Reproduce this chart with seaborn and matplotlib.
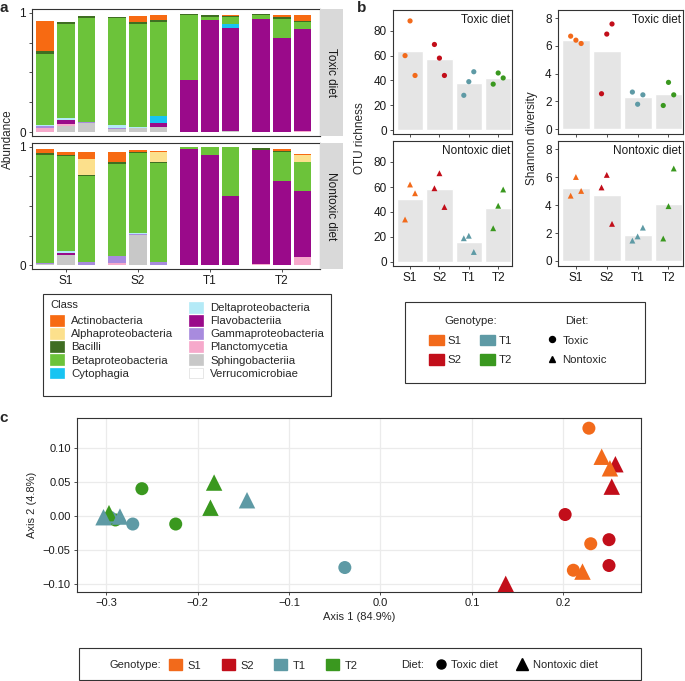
import matplotlib
matplotlib.use("Agg")
import matplotlib.pyplot as plt
import numpy as np
import pandas as pd
import seaborn as sns
from matplotlib.patches import Patch, Rectangle
from matplotlib.lines import Line2D

sns.set_style("ticks")
plt.rcParams["font.family"] = ["Liberation Sans", "DejaVu Sans"]

GENOTYPES = ["S1", "S2", "T1", "T2"]
GENO_COLORS = ["#F26A1B", "#C20E1A", "#5E9AA5", "#3A981F"]
DIETS = ["Toxic diet", "Nontoxic diet"]

CLASSES = ["Actinobacteria", "Alphaproteobacteria", "Bacilli", "Betaproteobacteria",
           "Cytophagia", "Deltaproteobacteria", "Flavobacteriia", "Gammaproteobacteria",
           "Planctomycetia", "Sphingobacteriia", "Verrucomicrobiae"]
CLASS_COLORS = ["#F76A12", "#FCE08C", "#3F6E22", "#6CC33A", "#18C4F2", "#B4EAF7",
                "#9A0A8A", "#A88BDE", "#F6A9CB", "#C8C8C8", "#FFFFFF"]

# panel a: relative abundance, 12 toxic-diet samples then 12 nontoxic-diet samples
# (S1 x3, S2 x3, T1 x3, T2 x3 within each diet)
actino = [0.253, 0, 0, 0, 0.047, 0.042, 0, 0, 0.008, 0, 0.014, 0.047,
          0.036, 0.02, 0.059, 0.081, 0.014, 0.006, 0, 0, 0, 0, 0.017, 0.011]
alpha = [0, 0, 0, 0, 0, 0, 0, 0, 0, 0, 0, 0,
         0, 0, 0.137, 0, 0, 0.089, 0, 0, 0, 0, 0, 0.056]
bacilli = [0.02, 0.014, 0.014, 0.008, 0.014, 0.014, 0.011, 0.014, 0.014, 0.014, 0.014, 0.011,
           0.011, 0.014, 0.008, 0.017, 0.014, 0.008, 0.004, 0.005, 0.004, 0.02, 0.011, 0.008]
beta = [0.597, 0.786, 0.867, 0.894, 0.861, 0.786, 0.544, 0.028, 0.058, 0.033, 0.158, 0.058,
        0.911, 0.796, 0.726, 0.774, 0.668, 0.83, 0.018, 0.065, 0.409, 0, 0.243, 0.237]
cyto = [0, 0, 0, 0, 0, 0.061, 0, 0, 0.028, 0, 0, 0,
        0, 0, 0, 0, 0, 0, 0, 0, 0, 0, 0, 0]
delta = [0.005, 0.019, 0, 0.022, 0.011, 0, 0, 0, 0, 0, 0, 0,
         0, 0.017, 0, 0, 0.011, 0, 0, 0, 0, 0, 0, 0]
flavo = [0, 0.033, 0, 0, 0, 0.033, 0.436, 0.936, 0.861, 0.944, 0.792, 0.847,
         0, 0.02, 0, 0, 0, 0, 0.978, 0.93, 0.587, 0.964, 0.712, 0.559]
gamma = [0.015, 0, 0.014, 0.011, 0, 0, 0, 0, 0, 0, 0, 0,
         0.01, 0, 0.028, 0.061, 0.008, 0.028, 0, 0, 0, 0, 0, 0]
plancto = [0.035, 0.017, 0, 0, 0, 0, 0, 0, 0, 0, 0, 0.014,
           0, 0, 0, 0.022, 0, 0, 0, 0, 0, 0.008, 0, 0.07]
sphingo = [0.005, 0.053, 0.075, 0.028, 0.036, 0.042, 0, 0, 0.014, 0, 0, 0,
           0.01, 0.084, 0, 0, 0.255, 0, 0, 0, 0, 0, 0, 0]
verruco = [0] * 24

# panel b: alpha diversity per replicate (3 per genotype, S1..T2)
otu_toxic = [60, 88, 44, 69, 58, 44, 28, 39, 47, 37, 46, 42]
otu_nontoxic = [34, 62, 55, 59, 71, 44, 19, 21, 8, 27, 45, 58]
shannon_toxic = [6.71, 6.42, 6.18, 2.55, 6.86, 7.59, 2.67, 1.79, 2.47, 1.70, 3.37, 2.47]
shannon_nontoxic = [4.68, 6.02, 5.02, 5.27, 6.17, 2.66, 1.46, 1.76, 2.39, 1.61, 3.93, 6.63]

# panel c: PCoA coordinates
pcoa_geno = ["S1"] * 3 + ["S2"] * 3 + ["T1"] * 3 + ["T2"] * 3
pcoa_geno = pcoa_geno + pcoa_geno
pcoa_diet = ["Toxic diet"] * 12 + ["Nontoxic diet"] * 12
axis1 = [0.228, 0.230, 0.211, 0.202, 0.250, 0.250, -0.271, -0.039, -0.296, -0.261, -0.224, -0.290,
         0.242, 0.251, 0.221, 0.257, 0.253, 0.137, -0.146, -0.303, -0.285, -0.182, -0.186, -0.297]
axis2 = [0.129, -0.041, -0.080, 0.002, -0.035, -0.073, -0.012, -0.076, -0.002, 0.040, -0.012, -0.006,
         0.087, 0.070, -0.082, 0.076, 0.043, -0.100, 0.023, -0.002, -0.001, 0.049, 0.012, 0.004]

W, H = 685, 681
fig = plt.figure(figsize=(W / 100, H / 100), dpi=100)
INK = "#333333"


def px_axes(l, t, r, b):
    return fig.add_axes([l / W, 1 - b / H, (r - l) / W, (b - t) / H])


def style_axes(ax, size=8):
    for s in ax.spines.values():
        s.set_color(INK)
        s.set_linewidth(0.8)
        s.set_visible(True)
    ax.tick_params(colors=INK, labelcolor="#1a1a1a", labelsize=size, length=2.5, width=0.6, pad=2)
    ax.set_xlabel("")
    ax.set_ylabel("")


# ---------------- panel a ----------------
abund = dict(zip(CLASSES, [actino, alpha, bacilli, beta, cyto, delta, flavo, gamma,
                           plancto, sphingo, verruco]))
BAR_W = 0.87
sample_pos = [g * 3.5 + i for g in range(4) for i in range(3)]
edges = sorted([p - BAR_W / 2 for p in sample_pos] + [p + BAR_W / 2 for p in sample_pos])
rows = []
for di, diet in enumerate(DIETS):
    for k, pos in enumerate(sample_pos):
        for cls in CLASSES:
            rows.append((diet, pos, cls, abund[cls][di * 12 + k]))
df_a = pd.DataFrame(rows, columns=["diet", "pos", "cls", "abundance"])

for row, (diet, (t, b)) in enumerate(zip(DIETS, [(9, 136), (143, 269)])):
    ax = px_axes(32, t, 320, b)
    sns.histplot(data=df_a[df_a.diet == diet], x="pos", weights="abundance", hue="cls",
                 hue_order=CLASSES, palette=CLASS_COLORS, multiple="stack", bins=edges,
                 linewidth=0, alpha=1, legend=False, ax=ax)
    style_axes(ax, 8.5)
    ax.set_xlim(-0.65, 13.35)
    ax.set_ylim(-0.03, 1.03)
    ax.set_yticks([0, 0.25, 0.5, 0.75, 1])
    ax.set_yticklabels(["0", "", "", "", "1"])
    ax.set_xticks([1, 4.5, 8, 11.5])
    if row == 0:
        ax.set_xticklabels([])
        ax.tick_params(axis="x", length=0)
    else:
        ax.set_xticklabels(GENOTYPES)
    strip = px_axes(320, t, 343, b)
    strip.set_facecolor("#D9D9D9")
    strip.set_xticks([])
    strip.set_yticks([])
    for s in strip.spines.values():
        s.set_visible(False)
    strip.text(0.5, 0.5, diet, rotation=270, ha="center", va="center", fontsize=8.5,
               color="#1a1a1a", transform=strip.transAxes)

fig.text(8 / W, 1 - 139 / H, "Abundance", rotation=90, ha="center", va="center", fontsize=8.5)

# class legend
fig.add_artist(Rectangle((43 / W, 1 - 396 / H), 288 / W, 102 / H, transform=fig.transFigure,
                         fill=False, edgecolor=INK, linewidth=0.8))
fig.text(50 / W, 1 - 305 / H, "Class", ha="left", va="center", fontsize=8)
handles = [Patch(facecolor="none", edgecolor="none")]
labels = [""]
for cls, c in zip(CLASSES, CLASS_COLORS):
    handles.append(Patch(facecolor=c, edgecolor="#DDDDDD" if c == "#FFFFFF" else c, linewidth=0.5))
    labels.append(cls)
fig.legend(handles, labels, loc="upper left", bbox_to_anchor=(50 / W, 1 - 302 / H), ncol=2,
           frameon=False, borderpad=0, borderaxespad=0, fontsize=8.2, handlelength=1.25,
           handleheight=1.05, handletextpad=0.6, labelspacing=0.17, columnspacing=1.4)

# ---------------- panel b ----------------
jitter = [-0.17, 0.0, 0.17]
rows = []
for di, diet in enumerate(DIETS):
    otu = otu_toxic if di == 0 else otu_nontoxic
    sha = shannon_toxic if di == 0 else shannon_nontoxic
    for k in range(12):
        g = k // 3
        rows.append((diet, GENOTYPES[g], g + jitter[k % 3], otu[k], sha[k]))
df_b = pd.DataFrame(rows, columns=["diet", "genotype", "xj", "otu", "shannon"])

b_specs = [("otu", "OTU richness", (393, 512), (-3.2, 96.8), [0, 20, 40, 60, 80], 360),
           ("shannon", "Shannon diversity", (558, 683), (-0.36, 8.6), [0, 2, 4, 6, 8], 532)]
for metric, ylabel, (l, r), ylim, yticks, lab_x in b_specs:
    for row, (diet, (t, b)) in enumerate(zip(DIETS, [(10, 134), (141, 266)])):
        ax = px_axes(l, t, r, b)
        sub = df_b[df_b.diet == diet]
        sns.barplot(data=sub, x="genotype", y=metric, order=GENOTYPES, errorbar=None,
                    color="#E5E5E5", saturation=1, width=0.9, ax=ax)
        sns.scatterplot(data=sub, x="xj", y=metric, hue="genotype", hue_order=GENOTYPES,
                        palette=GENO_COLORS, marker="o" if row == 0 else "^",
                        s=14 if row == 0 else 18, linewidth=0, legend=False, ax=ax, zorder=3)
        style_axes(ax, 8.5)
        ax.set_xlim(-0.58, 3.47)
        ax.set_ylim(*ylim)
        ax.set_yticks(yticks)
        ax.set_xticks(range(4))
        if row == 0:
            ax.set_xticklabels([])
        else:
            ax.set_xticklabels(GENOTYPES)
        ax.text(0.985, 0.965, diet, ha="right", va="top", fontsize=8.5, color="#1a1a1a",
                transform=ax.transAxes)
    fig.text(lab_x / W, 1 - 138 / H, ylabel, rotation=90, ha="center", va="center", fontsize=8.5)

# genotype / diet legend for b
fig.add_artist(Rectangle((405 / W, 1 - 383 / H), 240 / W, 81 / H, transform=fig.transFigure,
                         fill=False, edgecolor=INK, linewidth=0.8))
g_handles = [Patch(facecolor=c, edgecolor=c) for c in GENO_COLORS]
fig.legend(g_handles, GENOTYPES, title="Genotype:", loc="upper left",
           bbox_to_anchor=(429 / W, 1 - 316 / H), ncol=2, frameon=False, borderpad=0,
           borderaxespad=0, fontsize=8.2, title_fontsize=8.2, handlelength=1.3,
           handleheight=1.05, handletextpad=0.35, labelspacing=0.75, columnspacing=1.6)
d_handles = [Line2D([], [], marker="o", color="black", linestyle="none", markersize=4.3),
             Line2D([], [], marker="^", color="black", linestyle="none", markersize=5)]
fig.legend(d_handles, ["Toxic", "Nontoxic"], title="Diet:", loc="upper left",
           bbox_to_anchor=(546 / W, 1 - 316 / H), frameon=False, borderpad=0,
           borderaxespad=0, fontsize=8.2, title_fontsize=8.2, handlelength=1.0,
           handleheight=1.05, handletextpad=0.45, labelspacing=0.75)

# ---------------- panel c ----------------
df_c = pd.DataFrame({"genotype": pcoa_geno, "diet": pcoa_diet, "axis1": axis1, "axis2": axis2})
draw_order = {"S2": 0, "S1": 1, "T2": 2, "T1": 3}
df_c["order"] = df_c.genotype.map(draw_order)
df_c = df_c.sort_values("order", kind="stable")

ax = px_axes(77, 418, 641, 592)
for diet, marker, size in [("Toxic diet", "o", 88), ("Nontoxic diet", "^", 140)]:
    sns.scatterplot(data=df_c[df_c.diet == diet], x="axis1", y="axis2", hue="genotype",
                    hue_order=GENOTYPES, palette=GENO_COLORS, marker=marker, s=size,
                    linewidth=0, legend=False, ax=ax, zorder=3)
style_axes(ax, 8)
ax.grid(True, color="#EBEBEB", linewidth=0.9)
ax.set_axisbelow(True)
ax.set_xlim(-0.332, 0.285)
ax.set_ylim(-0.112, 0.144)
xt = [-0.3, -0.2, -0.1, 0.0, 0.1, 0.2]
yt = [-0.10, -0.05, 0.0, 0.05, 0.10]
ax.set_xticks(xt)
ax.set_xticklabels([f"{v:.1f}".replace("-", "\u2212") for v in xt])
ax.set_yticks(yt)
ax.set_yticklabels([f"{v:.2f}".replace("-", "\u2212") for v in yt])
ax.set_xlabel("Axis 1 (84.9%)", fontsize=8, labelpad=3)
ax.set_ylabel("Axis 2 (4.8%)", fontsize=8, labelpad=4)

fig.add_artist(Rectangle((79 / W, 1 - 680 / H), 562 / W, 32 / H, transform=fig.transFigure,
                         fill=False, edgecolor=INK, linewidth=0.8))
fig.text(110 / W, 1 - 665 / H, "Genotype:", ha="left", va="center", fontsize=8)
fig.text(401 / W, 1 - 665 / H, "Diet:", ha="left", va="center", fontsize=8)
fig.legend([Patch(facecolor=c, edgecolor=c) for c in GENO_COLORS], GENOTYPES, loc="center left",
           bbox_to_anchor=(169 / W, 1 - 665 / H), ncol=4, frameon=False, borderpad=0,
           borderaxespad=0, fontsize=8, handlelength=1.2, handleheight=1.15,
           handletextpad=0.5, columnspacing=1.8)
fig.legend([Line2D([], [], marker="o", color="black", linestyle="none", markersize=6.5),
            Line2D([], [], marker="^", color="black", linestyle="none", markersize=9)],
           ["Toxic diet", "Nontoxic diet"], loc="center left",
           bbox_to_anchor=(434 / W, 1 - 665 / H), ncol=2, frameon=False, borderpad=0,
           borderaxespad=0, fontsize=8, handlelength=1.2, handletextpad=0.35, columnspacing=1.6)

# panel letters
for letter, x, y in [("a", 4, 8), ("b", 362, 8), ("c", 4, 418)]:
    fig.text(x / W, 1 - y / H, letter, ha="center", va="center", fontsize=11, fontweight="bold")

fig.savefig("out.png", dpi=100)
